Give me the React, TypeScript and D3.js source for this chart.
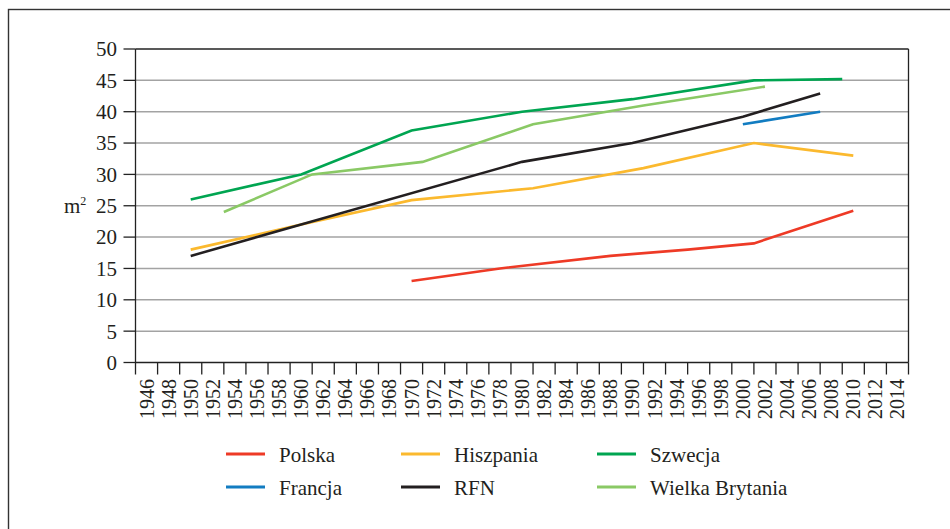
import * as d3 from "d3";

// lata na osi X (etykiety co 2 lata)
const yearLabels = [
  1946, 1948, 1950, 1952, 1954, 1956, 1958, 1960, 1962, 1964, 1966, 1968, 1970, 1972, 1974, 1976, 1978,
  1980, 1982, 1984, 1986, 1988, 1990, 1992, 1994, 1996, 1998, 2000, 2002, 2004, 2006, 2008, 2010, 2012, 2014,
];
const yTicks = [0, 5, 10, 15, 20, 25, 30, 35, 40, 45, 50];

const polskaYears = [1970, 1978, 1988, 1995, 2001, 2010];
const polskaValues = [13, 15, 17, 18, 19, 24.2];

const hiszpaniaYears = [1950, 1960, 1970, 1981, 1991, 2001, 2010];
const hiszpaniaValues = [18, 22, 25.9, 27.8, 31, 35, 33];

const szwecjaYears = [1950, 1960, 1970, 1980, 1990, 2001, 2009];
const szwecjaValues = [26, 30, 37, 40, 42, 45, 45.2];

const francjaYears = [2000, 2007];
const francjaValues = [38, 40];

const rfnYears = [1950, 1980, 1990, 2000, 2007];
const rfnValues = [17, 32, 35, 39.2, 42.9];

const wbYears = [1953, 1961, 1971, 1981, 1991, 2002];
const wbValues = [24, 30, 32, 38, 41, 44];

const colors = {
  POLSKA: "#ee3a26",
  HISZPANIA: "#fbb92e",
  SZWECJA: "#00a551",
  FRANCJA: "#127cc1",
  RFN: "#231f20",
  WB: "#8ac965",
  GRID: "#a3a3a3",
};

const series = [
  { name: "Polska", years: polskaYears, values: polskaValues, color: colors.POLSKA },
  { name: "Hiszpania", years: hiszpaniaYears, values: hiszpaniaValues, color: colors.HISZPANIA },
  { name: "Szwecja", years: szwecjaYears, values: szwecjaValues, color: colors.SZWECJA },
  { name: "Francja", years: francjaYears, values: francjaValues, color: colors.FRANCJA },
  { name: "RFN", years: rfnYears, values: rfnValues, color: colors.RFN },
  { name: "Wielka Brytania", years: wbYears, values: wbValues, color: colors.WB },
];

const width = 950;
const height = 529;
const plot = { left: 135.5, right: 908.5, top: 49, bottom: 362.5 };
const font = "'Liberation Serif', 'Times New Roman', serif";

export default function App() {
  const x = d3.scaleLinear().domain([1945, 2015]).range([plot.left, plot.right]);
  const y = d3.scaleLinear().domain([0, 50]).range([plot.bottom, plot.top]);
  const line = d3
    .line<[number, number]>()
    .x((d) => x(d[0]))
    .y((d) => y(d[1]));

  // granice kategorii (lata nieparzyste) dla kresek osi X
  const tickBounds = yearLabels.map((yr) => yr + 1);

  // legenda: 3 kolumny, 2 wiersze
  const legendCols = [226, 401, 597];
  const legendRows = [454, 487];

  return (
    <svg
      width={width}
      height={height}
      style={{ position: "absolute", left: 0, top: 0, background: "#fff" }}
      fontFamily={font}
    >
      <rect x={8.5} y={9.5} width={width} height={height} fill="none" stroke="#333" strokeWidth={1.4} />

      {/* siatka */}
      {yTicks.map((t) => (
        <g key={"y" + t}>
          {t > 0 && t < 50 && (
            <line x1={plot.left} x2={plot.right} y1={y(t)} y2={y(t)} stroke={colors.GRID} strokeWidth={1.5} />
          )}
          <line x1={plot.left - 12} x2={plot.left} y1={y(t)} y2={y(t)} stroke="#222" strokeWidth={1.3} />
          <text x={117} y={y(t)} dy="0.35em" textAnchor="end" fontSize={21} fill="#231f20">
            {t}
          </text>
        </g>
      ))}

      {/* ramka wykresu */}
      <line x1={plot.left} x2={plot.right} y1={plot.top} y2={plot.top} stroke="#222" strokeWidth={1.3} />
      <line x1={plot.right} x2={plot.right} y1={plot.top} y2={plot.bottom} stroke="#222" strokeWidth={1.3} />
      <line x1={plot.left} x2={plot.left} y1={plot.top} y2={plot.bottom + 12} stroke="#222" strokeWidth={1.3} />
      <line x1={plot.left} x2={plot.right} y1={plot.bottom} y2={plot.bottom} stroke="#222" strokeWidth={1.3} />

      {/* os X */}
      {tickBounds.map((b) => (
        <line key={"t" + b} x1={x(b)} x2={x(b)} y1={plot.bottom} y2={plot.bottom + 12} stroke="#222" strokeWidth={1.3} />
      ))}
      {yearLabels.map((yr) => (
        <text
          key={"l" + yr}
          transform={`translate(${x(yr)},379) rotate(-90)`}
          dy="0.35em"
          textAnchor="end"
          fontSize={20}
          fill="#231f20"
        >
          {yr}
        </text>
      ))}

      <text x={64} y={206} dy="0.35em" fontSize={21} fill="#231f20">
        m<tspan fontSize={12} dy="-0.7em">2</tspan>
      </text>

      {/* serie */}
      {series.map((s) => (
        <path
          key={s.name}
          d={line(s.years.map((yr, i) => [yr, s.values[i]] as [number, number])) || ""}
          fill="none"
          stroke={s.color}
          strokeWidth={2.6}
        />
      ))}

      {/* legenda */}
      {series.map((s, i) => {
        const cx = legendCols[i % 3];
        const cy = legendRows[Math.floor(i / 3)];
        return (
          <g key={"lg" + s.name}>
            <line x1={cx} x2={cx + 39} y1={cy} y2={cy} stroke={s.color} strokeWidth={3} />
            <text x={cx + 53} y={cy + 1} dy="0.35em" fontSize={21} fill="#231f20">
              {s.name}
            </text>
          </g>
        );
      })}
    </svg>
  );
}
